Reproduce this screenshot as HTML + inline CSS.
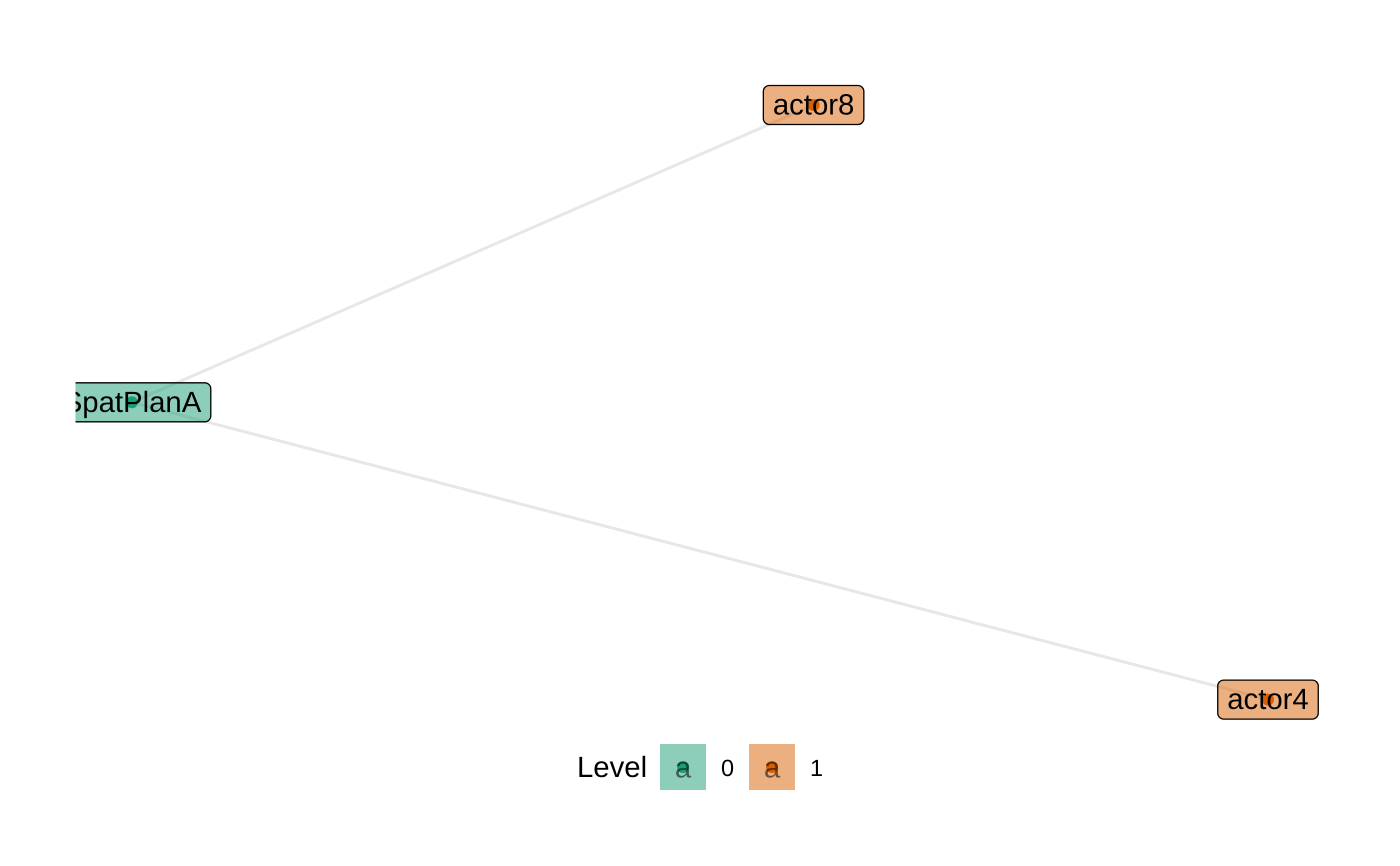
<!DOCTYPE html>
<html lang="en">
<head>
<meta charset="utf-8">
<title>Network graph</title>
<style>
html,body{margin:0;padding:0;background:#fff;}
svg{display:block;}
text{font-family:"Liberation Sans",sans-serif;text-rendering:geometricPrecision;}
</style>
</head>
<body>
<svg id="chart" xmlns="http://www.w3.org/2000/svg" width="1400" height="866" viewBox="0 0 1400 866">
  <defs>
    <clipPath id="panel-clip"><rect x="75.5" y="0" width="1324.5" height="735"></rect></clipPath>
  </defs>
  <rect x="0" y="0" width="1400" height="866" fill="#ffffff"></rect>
  <g id="edges" clip-path="url(#panel-clip)"></g>
  <g id="nodes" clip-path="url(#panel-clip)"></g>
  <g id="legend">
    <text x="577" y="776.8" font-size="29.33" fill="#000">Level</text>
  </g>
</svg>
<script>
const nodeNames = ['SpatPlanA', 'actor8', 'actor4'];
const nodeX = [0, 0.6, 1];
const nodeY = [0.5, 1, 0];
const nodeLevels = [0, 1, 1];
const edgeFrom = [0, 0];
const edgeTo = [1, 2];
const levelValues = [0, 1];
const levelColors = ['#1B9E77', '#D95F02'];

const NS = 'http://www.w3.org/2000/svg';
const xAxis = v => 132 + v * 1136;
const yAxis = v => 699.6 - v * 594.6;
const LABEL_PAD = 10;
const LABEL_H = 39;

function make(tag, attrs, parent) {
  const el = document.createElementNS(NS, tag);
  for (const k in attrs) el.setAttribute(k, attrs[k]);
  parent.appendChild(el);
  return el;
}

const edgeLayer = document.getElementById('edges');
edgeFrom.forEach((from, i) => {
  const to = edgeTo[i];
  const line = make('line', {
    x1: xAxis(nodeX[from]), y1: yAxis(nodeY[from]),
    x2: xAxis(nodeX[to]), y2: yAxis(nodeY[to]),
    stroke: '#E7E7E7', 'stroke-width': 3
  }, edgeLayer);
  
  
});

const nodeLayer = document.getElementById('nodes');
nodeNames.forEach((name, i) => {
  const cx = xAxis(nodeX[i]);
  const cy = yAxis(nodeY[i]);
  const color = levelColors[nodeLevels[i]];
  const group = make('g', {}, nodeLayer);
  
  

  const label = make('text', {
    x: cx, y: cy + 9.6, 'font-size': 29.33, 'text-anchor': 'middle', fill: '#000'
  }, group);
  label.textContent = name;
  
  
  const w = label.getComputedTextLength() + LABEL_PAD * 2 - 1;

  const box = make('rect', {
    x: cx - w / 2, y: cy - LABEL_H / 2, width: w, height: LABEL_H, rx: 6, ry: 6,
    fill: color, 'fill-opacity': 0.5, stroke: '#000', 'stroke-width': 1.3
  }, group);
  
  

  const dot = make('circle', { cx: cx, cy: cy, r: 6, fill: color }, group);
  
  

  group.appendChild(label);
});

const legendLayer = document.getElementById('legend');
levelValues.forEach((level, i) => {
  const keyX = 660 + i * 89;
  const color = levelColors[i];
  const key = make('rect', {
    x: keyX, y: 744, width: 46, height: 46, fill: color, 'fill-opacity': 0.5
  }, legendLayer);
  
  

  const dot = make('circle', { cx: keyX + 23, cy: 767, r: 6, fill: color }, legendLayer);
  
  

  const glyph = make('text', {
    x: keyX + 23, y: 777.5, 'font-size': 29.33, 'text-anchor': 'middle', fill: '#000', 'fill-opacity': 0.55
  }, legendLayer);
  glyph.textContent = 'a';
  
  

  const text = make('text', {
    x: keyX + 61, y: 776, 'font-size': 23.47, fill: '#000'
  }, legendLayer);
  text.textContent = String(level);
  
  
});
</script>
</body>
</html>
